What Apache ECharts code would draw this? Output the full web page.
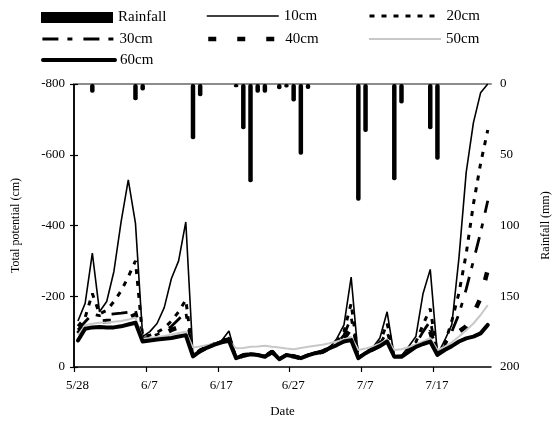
<!DOCTYPE html>
<html><head><meta charset="utf-8">
<script src="https://cdn.jsdelivr.net/npm/echarts@6/dist/echarts.min.js"></script>
<style>html,body{margin:0;padding:0;background:#fff}#c{width:553px;height:423px}</style>
</head><body><div id="c"></div>
<script>
// Days since 5/28; readings taken at the same time each day
const dayCount = 58;
const sampleTime = 0.55;
const xTickLabels = ['5/28', '6/7', '6/17', '6/27', '7/7', '7/17'];

const rainfall = [0,0,6.2,0,0,0,0,0,11.5,4.6, 0,0,0,0,0,0,39,8.7,0,0, 0,0,2.3,32,69.5,6.1,6.1,0,3.7,2.4,
  12.3,50,3.5,0,0,0,0,0,0,82.5, 34,0,0,0,68,13.7,0,0,0,32, 53.6,0,0,0,0,0,0,0];

const p10 = [-130,-180,-322,-156,-185,-270,-410,-529,-406,
  -86,-100,-123,-168,-250,-300,-410,
  -30,-48,-58,-66,-75,-102,
  -27,-34,-38,-36,-31,-45,-24,-36,-32,-27,-35,-41,-45,
  -55,-80,-119,-254,
  -27,-42,-55,-82,-156,
  -30,-32,-58,-86,-208,-276,
  -35,-75,-120,-310,-550,-690,-775,-800];
const p20 = [-115,-140,-208,-150,-160,-185,-215,-255,-300,
  -85,-90,-98,-110,-130,-156,-190,
  -32,-48,-58,-66,-73,-88,
  -26,-33,-37,-35,-30,-44,-23,-35,-31,-26,-34,-40,-44,
  -55,-70,-100,-180,
  -26,-41,-52,-70,-124,
  -30,-31,-50,-70,-120,-165,
  -35,-65,-130,-210,-320,-460,-575,-670];
const p30 = [-105,-128,-150,-145,-148,-150,-152,-155,-160,
  -80,-85,-92,-100,-115,-135,-155,
  -32,-47,-57,-65,-72,-82,
  -26,-33,-37,-35,-30,-44,-23,-35,-31,-26,-34,-40,-44,
  -54,-66,-90,-140,
  -26,-40,-51,-65,-100,
  -29,-31,-48,-65,-100,-130,
  -35,-60,-100,-150,-220,-300,-380,-470];
const p40 = [-95,-118,-122,-128,-130,-130,-133,-138,-148,
  -78,-82,-88,-95,-105,-112,-122,
  -31,-46,-56,-64,-72,-78,
  -25,-33,-36,-35,-29,-43,-22,-34,-30,-25,-33,-39,-43,
  -54,-64,-80,-110,
  -25,-40,-50,-62,-85,
  -29,-30,-46,-62,-85,-100,
  -34,-55,-75,-100,-115,-150,-195,-275];
const p50 = [-90,-118,-122,-125,-126,-128,-130,-134,-140,
  -80,-82,-85,-88,-92,-96,-100,
  -55,-58,-62,-66,-70,-72,
  -53,-54,-57,-58,-60,-57,-55,-52,-50,-54,-57,-60,-63,
  -67,-72,-78,-85,
  -48,-52,-58,-66,-78,
  -48,-50,-56,-64,-72,-82,
  -48,-57,-70,-86,-104,-123,-147,-175];
const p60 = [-75,-108,-112,-113,-112,-112,-115,-120,-125,
  -72,-75,-78,-80,-82,-86,-90,
  -30,-45,-55,-63,-70,-74,
  -25,-32,-36,-34,-29,-43,-22,-34,-30,-25,-33,-39,-43,
  -53,-62,-72,-76,
  -25,-39,-50,-59,-72,
  -29,-29,-43,-57,-65,-72,
  -34,-48,-59,-72,-81,-86,-95,-119];

const FONT = 'Liberation Serif';
const toXY = arr => arr.map((v, i) => [i + sampleTime, v]);

const styles = {
  '10cm': {color: '#000', width: 1.6, type: 'solid'},
  '20cm': {color: '#000', width: 3, type: [5, 7]},
  '30cm': {color: '#000', width: 2.8, type: [16, 9, 5, 11]},
  '40cm': {color: '#000', width: 4.5, type: [8, 21]},
  '50cm': {color: '#c8c8c8', width: 2, type: 'solid'},
  '60cm': {color: '#000', width: 4, type: 'solid', cap: 'round', join: 'round'}
};

const chart = echarts.init(document.getElementById('c'), null, {renderer: 'canvas'});

const legendBase = {
  padding: 0, itemGap: 0, itemWidth: 72, itemHeight: 14, selectedMode: false,
  textStyle: {fontFamily: FONT, fontSize: 15, color: '#000'},
  itemStyle: {opacity: 0}
};
function lg(name, left, top, extra) {
  const o = Object.assign({}, legendBase, {data: [name], left: left, top: top}, extra || {});
  if (styles[name]) o.lineStyle = Object.assign({}, styles[name]);
  return o;
}

const lineSeries = (name, data, z) => ({
  name: name, type: 'line', data: toXY(data), xAxisIndex: 0, yAxisIndex: 0,
  symbol: 'none', showSymbol: false, smooth: false, animation: false, z: z,
  lineStyle: styles[name], itemStyle: {color: styles[name].color}
});

chart.setOption({
  animation: false,
  backgroundColor: '#fff',
  textStyle: {fontFamily: FONT},
  grid: {left: 74, right: 62, top: 84, bottom: 56, containLabel: false, outerBoundsMode: 'none'},
  legend: [
    lg('Rainfall', 41, 10, {itemHeight: 11, icon: 'rect', itemStyle: {color: '#000'}}),
    lg('10cm', 206, 8.5),
    lg('20cm', 368, 8.5),
    lg('30cm', 41, 31.5),
    lg('40cm', 206, 31.5),
    lg('50cm', 368, 31.5),
    lg('60cm', 41, 52.5)
  ],
  xAxis: [{
    type: 'value', min: 0, max: dayCount, interval: 10,
    position: 'bottom',
    name: 'Date', nameLocation: 'middle', nameGap: 38,
    nameTextStyle: {fontFamily: FONT, fontSize: 13, color: '#000'},
    axisLine: {show: true, lineStyle: {color: '#000', width: 1.5}},
    axisTick: {show: true, length: 5, lineStyle: {color: '#000', width: 1.2}},
    axisLabel: {
      fontFamily: FONT, fontSize: 13, color: '#000', margin: 12, showMaxLabel: false,
      padding: [0, 0, 0, 7],
      formatter: v => (v % 10 === 0 && xTickLabels[v / 10]) ? xTickLabels[v / 10] : ''
    },
    splitLine: {show: false}
  }, {
    type: 'value', min: 0, max: dayCount, position: 'top',
    axisLine: {show: true, lineStyle: {color: '#8c8c8c', width: 2}},
    axisTick: {show: false}, axisLabel: {show: false}, splitLine: {show: false}
  }],
  yAxis: [{
    type: 'value', min: -800, max: 0, interval: 200, inverse: true,
    position: 'left',
    name: 'Total potential (cm)', nameLocation: 'middle', nameGap: 52, nameRotate: 90,
    nameTextStyle: {fontFamily: FONT, fontSize: 12, color: '#000'},
    axisLine: {show: true, lineStyle: {color: '#000', width: 1.5}},
    axisTick: {show: true, length: 4, lineStyle: {color: '#000', width: 1.2}},
    axisLabel: {fontFamily: FONT, fontSize: 13, color: '#000', margin: 9},
    splitLine: {show: false}
  }, {
    type: 'value', min: 0, max: 200, interval: 50, inverse: true,
    position: 'right',
    name: 'Rainfall (mm)', nameLocation: 'middle', nameGap: 49, nameRotate: 90,
    nameTextStyle: {fontFamily: FONT, fontSize: 12, color: '#000'},
    axisLine: {show: true, lineStyle: {color: '#000', width: 1.5}},
    axisTick: {show: true, length: 4, lineStyle: {color: '#000', width: 1.2}},
    axisLabel: {fontFamily: FONT, fontSize: 13, color: '#000', margin: 9},
    splitLine: {show: false}
  }],
  series: [
    {
      name: 'Rainfall', type: 'bar', data: toXY(rainfall), xAxisIndex: 0, yAxisIndex: 1,
      barWidth: 4.5, itemStyle: {color: '#000', borderRadius: 2}, z: 1, animation: false
    },
    lineSeries('10cm', p10, 3),
    lineSeries('20cm', p20, 3),
    lineSeries('30cm', p30, 3),
    lineSeries('40cm', p40, 3),
    lineSeries('50cm', p50, 3),
    lineSeries('60cm', p60, 4)
  ]
});
</script></body></html>
